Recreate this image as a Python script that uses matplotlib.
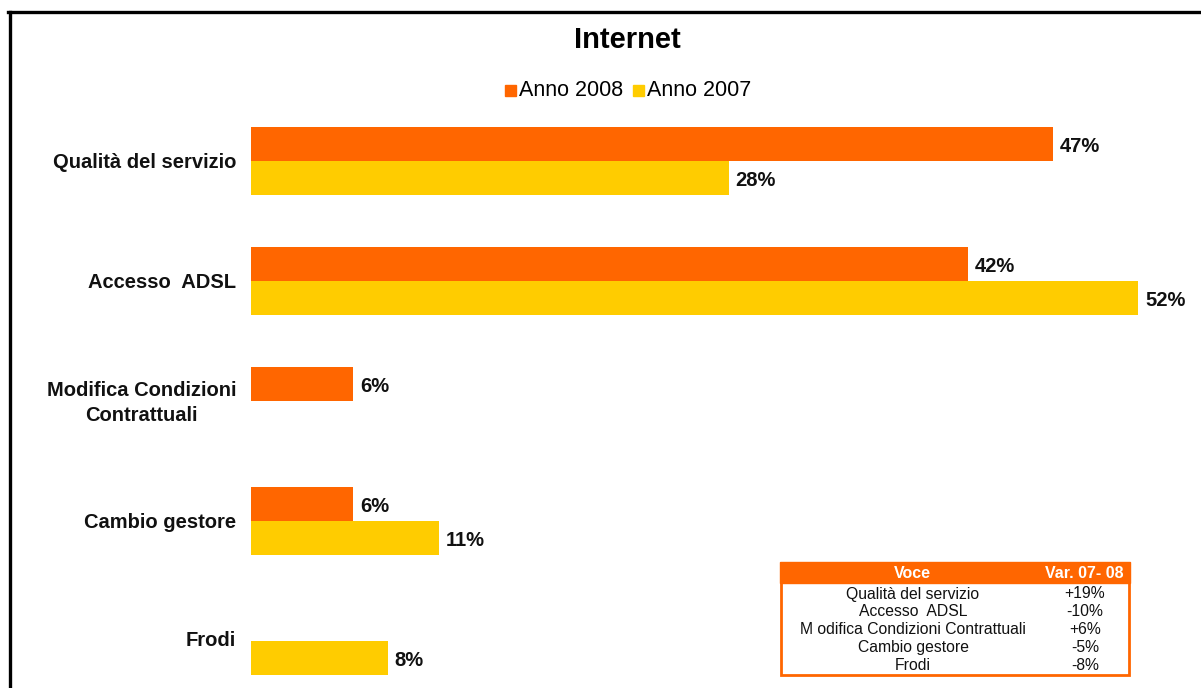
import matplotlib.pyplot as plt
from matplotlib.patches import Rectangle
from matplotlib.lines import Line2D
import numpy as np

# dati
categorie = ["Qualità del servizio", "Accesso  ADSL", "Modifica Condizioni\nContrattuali",
             "Cambio gestore", "Frodi"]
anno_2008 = [47, 42, 6, 6, None]
anno_2007 = [28, 52, None, 11, 8]

voci_tabella = ["Qualità del servizio", "Accesso  ADSL", "M odifica Condizioni Contrattuali",
                "Cambio gestore", "Frodi"]
variazioni = ["+19%", "-10%", "+6%", "-5%", "-8%"]

arancio = "#FF6600"
giallo = "#FFCC00"

W, H = 1201, 688
fig = plt.figure(figsize=(W / 100, H / 100), dpi=100)
plt.rcParams['font.family'] = ['Liberation Sans', 'DejaVu Sans']

def fx(px):
    return px / W

def fy(py):
    return 1 - py / H

# asse in pixel: sinistra 251, destra 1201, alto 110, basso 688
ax = fig.add_axes([fx(251), fy(688), fx(1201) - fx(251), fy(110) - fy(688)])
scala = (1053 - 251) / 47.0
ax.set_xlim(0, (1201 - 251) / scala)
ax.set_ylim((688 - 161) / 120.0, -(161 - 110) / 120.0)
ax.axis('off')

h = 34 / 120.0
y = np.arange(len(categorie))
for i in range(len(categorie)):
    if anno_2008[i] is not None:
        ax.barh(y[i] - h / 2, anno_2008[i], height=h, color=arancio, align='center')
        ax.text(anno_2008[i] + 0.4, y[i] - h / 2 + 0.02, f"{anno_2008[i]}%", ha='left', va='center',
                fontsize=14.5, fontweight='bold', color='#111111')
    if anno_2007[i] is not None:
        ax.barh(y[i] + h / 2, anno_2007[i], height=h, color=giallo, align='center')
        ax.text(anno_2007[i] + 0.4, y[i] + h / 2 + 0.02, f"{anno_2007[i]}%", ha='left', va='center',
                fontsize=14.5, fontweight='bold', color='#111111')

# etichette categorie
for i, c in enumerate(categorie):
    yy = 161 + 120 * i + 2
    if i == 4:
        yy = 641
    fig.text(fx(236), fy(yy), c, ha='right', va='center', fontsize=14.5, fontweight='bold',
             color='#111111', multialignment='center', linespacing=1.35)

# titolo e legenda
fig.text(fx(627), fy(40), "Internet", ha='center', va='center', fontsize=21, fontweight='bold')
fig.patches.append(Rectangle((fx(505), fy(96)), fx(11), 11 / H, color=arancio, transform=fig.transFigure))
fig.text(fx(519), fy(90), "Anno 2008", ha='left', va='center', fontsize=15.5)
fig.patches.append(Rectangle((fx(633), fy(96)), fx(11), 11 / H, color=giallo, transform=fig.transFigure))
fig.text(fx(647), fy(90), "Anno 2007", ha='left', va='center', fontsize=15.5)

# tabella variazioni
fig.patches.append(Rectangle((fx(780), fy(583)), fx(350), 21 / H, color=arancio, transform=fig.transFigure))
fig.patches.append(Rectangle((fx(781), fy(675)), fx(348), 112 / H, fill=False, edgecolor=arancio,
                             linewidth=2, transform=fig.transFigure))
fig.text(fx(912), fy(573), "Voce", ha='center', va='center', fontsize=11.5, fontweight='bold', color='white')
fig.text(fx(1084), fy(573), "Var. 07- 08", ha='center', va='center', fontsize=11.5, fontweight='bold',
         color='white')
for i in range(len(voci_tabella)):
    yy = 594 + 17.8 * i
    fig.text(fx(913), fy(yy), voci_tabella[i], ha='center', va='center', fontsize=11.3, color='#111111')
    fig.text(fx(1085), fy(yy), variazioni[i], ha='center', va='center', fontsize=11.3, color='#111111')

# cornice
fig.lines.append(Line2D([fx(8), 1], [fy(12), fy(12)], color='black', linewidth=2.4, transform=fig.transFigure))
fig.lines.append(Line2D([fx(9.5), fx(9.5)], [fy(12), 0], color='black', linewidth=2.4, transform=fig.transFigure))

fig.savefig("out.png", dpi=100)
